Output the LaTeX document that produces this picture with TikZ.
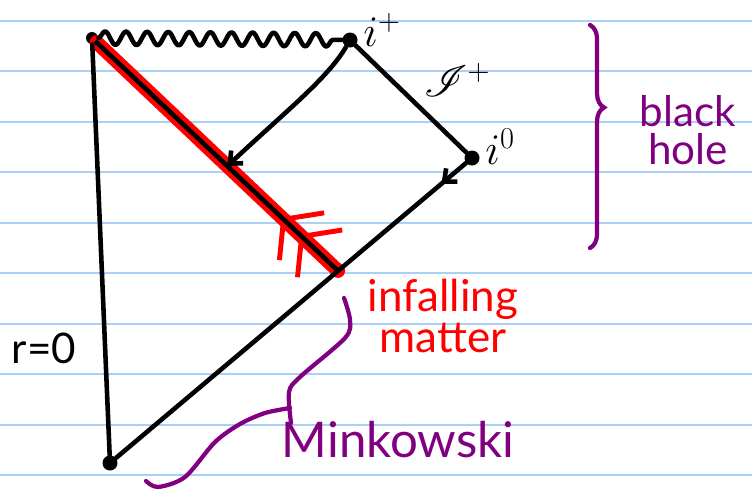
\documentclass[tikz,border=0pt]{standalone}
\usepackage{fontspec}
\usepackage{mathrsfs}
\setmainfont{Lato}
\usetikzlibrary{positioning,arrows.meta,calc,decorations.pathmorphing,decorations.pathreplacing,decorations.markings}
\definecolor{ink}{HTML}{000000}
\definecolor{accent}{HTML}{FF0000}
\definecolor{plum}{HTML}{800080}
\definecolor{ruling}{HTML}{A9D0F5}
\tikzset{
  dot/.style={circle,fill=ink,inner sep=0pt,minimum size=3mm},
  bound/.style={draw=ink,line width=2.6pt,line cap=round,line join=round},
  sing/.style={bound,decorate,decoration={snake,segment length=12pt,amplitude=3.8pt}},
  infall/.style={draw=accent,line width=8pt,line cap=round},
  ray/.style={bound,-{Straight Barb[length=2mm,width=3.5mm]}},
  midbarb/.style={postaction={decorate,decoration={markings,mark=at position #1 with {\arrow{Straight Barb[length=2mm,width=3.5mm]}}}}},
  chevrons/.style={postaction={decorate,decoration={markings,
    mark=at position 0.16 with {\arrow{Straight Barb[length=5mm,width=13mm,line width=2.8pt]}},
    mark=at position 0.235 with {\arrow{Straight Barb[length=5mm,width=13mm,line width=2.8pt]}}}}},
  hbrace/.style={draw=plum,line width=2.4pt,line cap=round,decorate,decoration={brace,amplitude=8pt,aspect=0.37}},
  mbrace/.style={draw=plum,line width=2.4pt,line cap=round,line join=round},
  ruled/.style={draw=ruling,line width=1.1pt},
  mathlbl/.style={font=\fontsize{24}{26}\selectfont,inner sep=0pt},
  ink lbl/.style={align=center,inner sep=0pt}}

\begin{document}
\begin{tikzpicture}[x=0.2mm,y=-0.2mm]
  \useasboundingbox[fill=white] (0,0) rectangle (752,491);
  \foreach \k in {0,...,9}
    \draw[ruled] (0,{21+50.45*\k}) -- (752,{21+50.45*\k});
  \node[dot,minimum size=2.4mm] (tl) at (92,38) {};
  \node[dot] (ip) at (350,40) {};
  \node[dot] (izero) at (472,158) {};
  \node[dot] (bot) at (110,463) {};
  \coordinate (hz) at ($(bot)!0.63!(izero)$);
  \coordinate (hmid) at ($(tl)!0.55!(hz)$);
  \draw[infall,chevrons] (hz) -- (tl);
  \draw[bound] (tl) -- (hz);
  \draw[sing] (tl) -- (ip);
  \draw[bound] (tl) -- (bot);
  \draw[bound] (ip) -- (izero);
  \draw[bound,midbarb=0.07] (izero) -- (bot);
  \draw[ray] (ip) .. controls (328,78) and (285,112) .. (hmid);
  \node[mathlbl,above right=-2.5mm and 1.5mm of ip] (iplus) {$i^+$};
  \node[mathlbl] (scri) at (457,80) {$\mathscr{I}^+$};
  \node[mathlbl,above right=-2.5mm and 1.5mm of izero] (inull) {$i^0$};
  \node[ink lbl,font=\fontsize{24}{26}\selectfont] (rzero) at (44,348) {r=0};
  \draw[hbrace] (590,25) -- (590,248);
  \node[ink lbl,text=plum,font=\fontsize{24}{22}\selectfont] (bh) at (688,130) {black\\hole};
  \node[ink lbl,text=accent,font=\fontsize{25}{23}\selectfont] (mat) at (443,316) {infalling\\matter};
  \node[ink lbl,text=plum,font=\fontsize{28}{30}\selectfont] (mink) at (398,440) {Minkowski};
  \draw[mbrace] plot[smooth] coordinates {(344,298) (350,320) (345,338) (300,377) (289,392) (291,423)};
  \draw[mbrace] plot[smooth] coordinates {(290,408) (265,413) (240,424) (215,442) (185,477) (158,487) (146,481)};
\end{tikzpicture}
\end{document}
